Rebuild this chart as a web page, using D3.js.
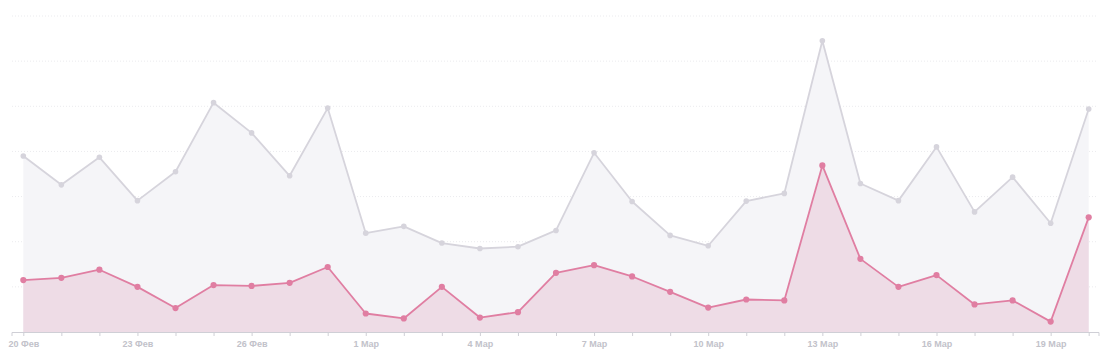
<!DOCTYPE html>
<html>
<head>
<meta charset="utf-8">
<script src="https://cdn.jsdelivr.net/npm/d3@7"></script>
<style>
  html, body { margin: 0; padding: 0; background: #fff; }
  svg { display: block; }
  .tick text { font-family: "Liberation Sans", Arial, sans-serif; font-weight: bold; }
</style>
</head>
<body>
<svg id="chart" width="1110" height="361"></svg>
<script>
const dates = [
  "2023-02-20","2023-02-21","2023-02-22","2023-02-23","2023-02-24","2023-02-25","2023-02-26","2023-02-27","2023-02-28",
  "2023-03-01","2023-03-02","2023-03-03","2023-03-04","2023-03-05","2023-03-06","2023-03-07","2023-03-08","2023-03-09",
  "2023-03-10","2023-03-11","2023-03-12","2023-03-13","2023-03-14","2023-03-15","2023-03-16","2023-03-17","2023-03-18",
  "2023-03-19","2023-03-20"
];
const totalValues = [
  39.0, 32.6, 38.7, 29.1, 35.5, 50.8, 44.1, 34.6, 49.6,
  21.9, 23.4, 19.7, 18.5, 18.9, 22.5, 39.7, 28.9, 21.4,
  19.1, 29.0, 30.7, 64.5, 32.9, 29.1, 41.0, 26.6, 34.3,
  24.1, 49.4
];
const subsetValues = [
  11.5, 12.0, 13.8, 10.0, 5.3, 10.4, 10.2, 10.9, 14.4,
  4.1, 3.0, 10.0, 3.2, 4.4, 13.1, 14.8, 12.3, 8.9,
  5.4, 7.2, 7.0, 36.9, 16.2, 10.0, 12.6, 6.1, 7.0,
  2.3, 25.4
];
const monthNames = ["Янв","Фев","Мар","Апр","Май","Июн","Июл","Авг","Сен","Окт","Ноя","Дек"];
const yMax = 70;
const yGridStep = 10;

const svg = d3.select("#chart");
const parse = d3.utcParse("%Y-%m-%d");
const days = dates.map(parse);

const x = d3.scaleUtc().domain(d3.extent(days)).range([23.3, 1088.7]);
const y = d3.scaleLinear().domain([0, yMax]).range([332, 16]);

// gridlines
const gridVals = d3.range(yGridStep, yMax + 0.001, yGridStep);
svg.append("g").selectAll("line").data(gridVals).join("line")
  .attr("x1", 12).attr("x2", 1098)
  .attr("y1", d => y(d)).attr("y2", d => y(d))
  .attr("stroke", "#ebebee").attr("stroke-width", 1)
  .attr("stroke-dasharray", "1,2");

const totalData = days.map((d, i) => ({ d, v: totalValues[i] }));
const subsetData = days.map((d, i) => ({ d, v: subsetValues[i] }));

const area = d3.area().x(p => x(p.d)).y0(y(0)).y1(p => y(p.v));
const line = d3.line().x(p => x(p.d)).y(p => y(p.v));

svg.append("path").datum(totalData).attr("d", area).attr("fill", "#f5f5f8");
svg.append("path").datum(subsetData).attr("d", area).attr("fill", "#eedce6");

svg.append("path").datum(totalData).attr("d", line)
  .attr("fill", "none").attr("stroke", "#d6d4dc").attr("stroke-width", 1.8)
  .attr("stroke-linejoin", "round");
svg.append("g").selectAll("circle").data(totalData).join("circle")
  .attr("cx", p => x(p.d)).attr("cy", p => y(p.v)).attr("r", 2.8)
  .attr("fill", "#d6d4dc");

svg.append("path").datum(subsetData).attr("d", line)
  .attr("fill", "none").attr("stroke", "#e07ea2").attr("stroke-width", 1.8)
  .attr("stroke-linejoin", "round");
svg.append("g").selectAll("circle").data(subsetData).join("circle")
  .attr("cx", p => x(p.d)).attr("cy", p => y(p.v)).attr("r", 3.1)
  .attr("fill", "#e07ea2");

// x axis
const labelFmt = (d) => {
  const idx = d3.utcDay.count(days[0], d);
  return idx % 3 === 0 ? `${d.getUTCDate()} ${monthNames[d.getUTCMonth()]}` : "";
};
const axis = d3.axisBottom(x).tickValues(days).tickSize(4).tickSizeOuter(0).tickPadding(5).tickFormat(labelFmt);
const gx = svg.append("g").attr("transform", `translate(0,${y(0)})`).call(axis);
gx.select(".domain").remove();
gx.selectAll(".tick line").attr("stroke", "#cfcfd6");
gx.selectAll(".tick text").attr("fill", "#c2c2ca").attr("font-size", 9);
// baseline with outer end ticks
gx.append("path")
  .attr("d", `M12,4V0.5H1099V4`)
  .attr("fill", "none").attr("stroke", "#cfcfd6").attr("stroke-width", 1);
</script>
</body>
</html>
